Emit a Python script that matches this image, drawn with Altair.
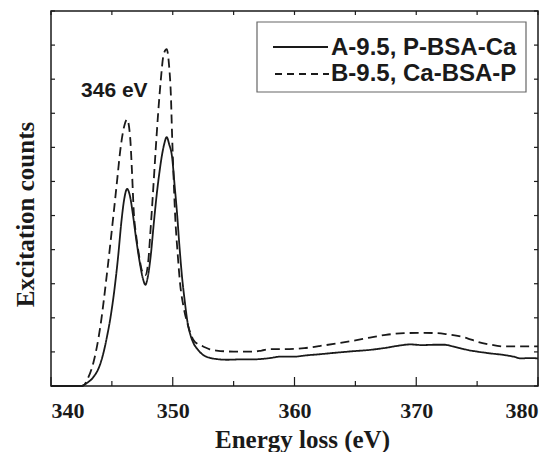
import altair as alt
import pandas as pd

SERIES = ["A-9.5, P-BSA-Ca", "B-9.5, Ca-BSA-P"]

energy_a = [340.0, 342.4, 343.0, 343.5, 344.0, 344.3, 344.6, 344.9, 345.2, 345.5, 345.8, 346.0,
            346.25, 346.5, 346.7, 347.0, 347.3, 347.55, 347.75, 347.95, 348.2, 348.45, 348.7,
            348.9, 349.1, 349.3, 349.5, 349.7, 349.95, 350.15, 350.35, 350.55, 350.76, 351.0,
            351.2, 351.45, 351.7, 352.1, 352.5, 353.0, 353.6, 354.5, 355.5, 356.5, 357.5, 358.0,
            358.8, 359.9, 361.0, 362.0, 363.5, 364.8, 366.2, 367.5, 368.5, 369.5, 370.5, 371.5,
            372.3, 373.0, 373.6, 374.3, 375.0, 376.0, 377.2, 378.0, 378.6, 379.3, 380.0]
counts_a = [0.0, 0.0, 0.1, 0.27, 0.6, 0.96, 1.45, 2.04, 2.8, 3.75, 4.88, 5.45,
            5.78, 5.55, 5.1, 4.3, 3.6, 3.15, 2.97, 3.2, 3.85, 4.8, 5.67,
            6.25, 6.74, 7.1, 7.3, 7.1, 6.7, 5.9, 5.08, 4.1, 3.21, 2.45,
            1.9, 1.5, 1.26, 1.05, 0.91, 0.83, 0.79, 0.77, 0.78, 0.78, 0.8, 0.82,
            0.86, 0.86, 0.9, 0.93, 0.98, 1.02, 1.06, 1.12, 1.18, 1.22, 1.2, 1.21,
            1.21, 1.16, 1.11, 1.05, 1.01, 0.96, 0.91, 0.86, 0.81, 0.82, 0.81]

energy_b = [340.0, 342.6, 343.0, 343.5, 344.05, 344.6, 345.15, 345.45, 345.7, 346.0, 346.25,
            346.5, 346.65, 346.8, 347.0, 347.2, 347.5, 347.75, 348.0, 348.16, 348.4, 348.6,
            348.8, 349.0, 349.26, 349.5, 349.7, 349.85, 349.94, 350.05, 350.2, 350.4, 350.6,
            350.9, 351.2, 351.45, 351.7, 352.1, 352.5, 353.0, 353.6, 355.0, 356.6, 357.3, 358.0,
            359.0, 360.8, 362.0, 363.5, 365.0, 366.2, 367.5, 369.0, 370.5, 371.7, 372.5, 373.4,
            374.2, 375.0, 376.0, 377.2, 378.5, 380.0]
counts_b = [0.0, 0.0, 0.2, 0.71, 1.74, 3.31, 5.08, 6.1, 6.94, 7.6, 7.82,
            7.3, 6.3, 5.1, 4.4, 3.9, 3.35, 3.25, 3.7, 4.49, 5.8, 6.94,
            8.0, 8.9, 9.74, 9.88, 9.39, 8.5, 7.43, 6.3, 4.98, 3.9, 3.02,
            2.3, 1.84, 1.55, 1.35, 1.22, 1.16, 1.08, 1.04, 1.01, 1.01, 1.04, 1.08,
            1.08, 1.11, 1.17, 1.25, 1.34, 1.42, 1.5, 1.55, 1.56, 1.55, 1.52, 1.47,
            1.4, 1.3, 1.22, 1.16, 1.16, 1.16]

X_LABELS = [340, 350, 360, 370, 380]
X_MINOR = [345, 355, 365, 375]
X_TOP = [340, 345, 350, 355, 360, 365, 370, 375, 380]
Y_TICKS = [0, 1, 2, 3, 4, 5, 6, 7, 8, 9, 10, 11]

ANNOT_TEXT = ["346 eV"]
ANNOT_X = [345.2]
ANNOT_Y = [8.47]

W, H = 487, 375
INK = "#1a1a1a"
SERIF = "Liberation Serif"
SANS = "Liberation Sans"

df = pd.concat([
    pd.DataFrame({"energy": energy_a, "counts": counts_a, "series": SERIES[0]}),
    pd.DataFrame({"energy": energy_b, "counts": counts_b, "series": SERIES[1]}),
])

xscale = alt.Scale(domain=[340, 380], nice=False, zero=False)
yscale = alt.Scale(domain=[0, 11], nice=False, zero=False)

axis_font = dict(labelFont=SERIF, labelFontSize=22, labelFontWeight="bold", labelColor=INK,
                 titleFont=SERIF, titleFontSize=25, titleFontWeight="bold", titleColor=INK)

lines = alt.Chart(df).mark_line(interpolate="monotone", strokeWidth=1.8, color=INK).encode(
    x=alt.X("energy:Q", scale=xscale,
            axis=alt.Axis(values=X_LABELS, format="d", labelPadding=14,
                          ticks=False, domain=False, grid=False,
                          title="Energy loss (eV)", titleX=251, titleY=61,
                          titleBaseline="alphabetic", titleAlign="center", **axis_font)),
    y=alt.Y("counts:Q", scale=yscale,
            axis=alt.Axis(labels=False, ticks=False, domain=False, grid=False,
                          title="Excitation counts", titleAngle=270,
                          titleX=-18, titleY=203, titleBaseline="alphabetic",
                          titleAlign="center", **axis_font)),
    strokeDash=alt.StrokeDash("series:N", scale=alt.Scale(domain=SERIES, range=[[1, 0], [9, 5]]),
                              legend=None),
    detail="series:N",
)

def ticks_x(vals, y0, y1):
    return alt.Chart(pd.DataFrame({"energy": vals})).mark_rule(color=INK, strokeWidth=1.2).encode(
        x=alt.X("energy:Q", scale=xscale), y=alt.value(y0), y2=alt.value(y1))

def ticks_y(vals, x0, x1):
    return alt.Chart(pd.DataFrame({"counts": vals})).mark_rule(color=INK, strokeWidth=1.2).encode(
        y=alt.Y("counts:Q", scale=yscale), x=alt.value(x0), x2=alt.value(x1))

tick_layers = [
    ticks_x(X_LABELS, H, H - 9),
    ticks_x(X_MINOR, H, H - 5),
    ticks_x(X_TOP, 0, 4),
    ticks_y(Y_TICKS, 0, 4),
    ticks_y(Y_TICKS, W, W - 4),
]

annot = alt.Chart(pd.DataFrame({"energy": ANNOT_X, "counts": ANNOT_Y, "label": ANNOT_TEXT})).mark_text(
    font=SANS, fontWeight="bold", fontSize=21, baseline="alphabetic", align="center", color=INK
).encode(x=alt.X("energy:Q", scale=xscale), y=alt.Y("counts:Q", scale=yscale), text="label:N")

one = pd.DataFrame({"a": [0]})
leg_box = alt.Chart(one).mark_rect(fill="white", stroke="#666", strokeWidth=1.2).encode(
    x=alt.value(206), x2=alt.value(475), y=alt.value(11), y2=alt.value(81))
leg_solid = alt.Chart(one).mark_rule(color=INK, strokeWidth=1.8).encode(
    x=alt.value(222), x2=alt.value(277), y=alt.value(36))
leg_dash = alt.Chart(one).mark_rule(color=INK, strokeWidth=1.8, strokeDash=[7, 5]).encode(
    x=alt.value(224), x2=alt.value(278), y=alt.value(63))
leg_t1 = alt.Chart(one).mark_text(text=SERIES[0], font=SANS, fontWeight="bold", fontSize=24,
                                  align="left", baseline="alphabetic", color=INK).encode(
    x=alt.value(280), y=alt.value(44))
leg_t2 = alt.Chart(one).mark_text(text=SERIES[1], font=SANS, fontWeight="bold", fontSize=24,
                                  align="left", baseline="alphabetic", color=INK).encode(
    x=alt.value(280), y=alt.value(70))

chart = alt.layer(lines, *tick_layers, annot, leg_box, leg_solid, leg_dash, leg_t1, leg_t2).properties(
    width=W, height=H,
    autosize=alt.AutoSizeParams(type="none"),
    padding={"left": 43, "top": 3, "right": 8, "bottom": 66},
).configure(background="white").configure_view(stroke=INK, strokeWidth=1.5).configure_axis(**axis_font)

chart.save("out.html", embed_options={"renderer": "svg", "actions": False})
